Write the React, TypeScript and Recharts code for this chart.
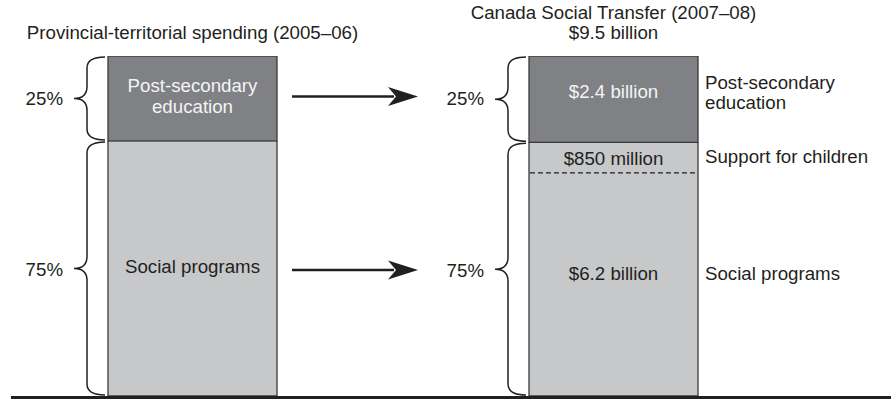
import { BarChart, Bar, XAxis, YAxis, ReferenceLine } from 'recharts';

const categories = ['Provincial-territorial spending (2005–06)', 'Canada Social Transfer (2007–08)'];
const totalLabels = ['', '$9.5 billion'];

// left bar is in percent, right bar in billions of dollars
const postSecondary = [25, 2.4];
const childSupport = [0, 0.85];
const socialPrograms = [75, 6.2];

const postLabels = [['Post-secondary', 'education'], ['$2.4 billion']];
const childLabels = ['', '$850 million'];
const socialLabels = ['Social programs', '$6.2 billion'];
const shareLabels = [['25%', '75%'], ['25%', '75%']];
const sideLabels = { post: ['Post-secondary', 'education'], child: 'Support for children', social: 'Social programs' };

// each bar is drawn as shares of its own total
const data = categories.map((name, i) => {
  const total = postSecondary[i] + childSupport[i] + socialPrograms[i];
  return {
    name,
    idx: i,
    post: postSecondary[i] / total,
    child: childSupport[i] / total,
    social: socialPrograms[i] / total,
  };
});

const DARK = '#808184';
const LIGHT = '#c7c8ca';
const EDGE = '#3a3a3a';
const INK = '#231f20';
const FONT = '"Liberation Sans", Arial, sans-serif';

const txt = { fontFamily: FONT, fontSize: 18.7, fill: INK };

function Brace({ xBar, y1, y2 }: { xBar: number; y1: number; y2: number }) {
  const tip = xBar - 34;
  const stem = xBar - 21;
  const end = xBar - 3;
  const mid = (y1 + y2) / 2;
  const r = 12;
  const d =
    `M${end},${y1 + 1} Q${stem},${y1 + 1} ${stem},${y1 + r} L${stem},${mid - r} ` +
    `Q${stem},${mid} ${tip},${mid} Q${stem},${mid} ${stem},${mid + r} ` +
    `L${stem},${y2 - r} Q${stem},${y2 - 1} ${end},${y2 - 1}`;
  return <path d={d} fill="none" stroke={INK} strokeWidth={1.5} />;
}

function Arrow({ x1, x2, y }: { x1: number; x2: number; y: number }) {
  return (
    <g>
      <line x1={x1} x2={x2 - 24} y1={y} y2={y} stroke={INK} strokeWidth={2.6} />
      <polygon
        points={`${x2},${y} ${x2 - 30},${y - 9.5} ${x2 - 22},${y} ${x2 - 30},${y + 9.5}`}
        fill={INK}
      />
    </g>
  );
}

function PostShape(props: any) {
  const { x, y, width, height, payload } = props;
  const i = payload.idx;
  const cx = x + width / 2;
  const cy = y + height / 2;
  const lines = postLabels[i];
  return (
    <g>
      <rect x={x} y={y} width={width} height={height} fill={DARK} stroke={EDGE} strokeWidth={1.3} />
      {lines.length > 1 ? (
        lines.map((l, k) => (
          <text key={k} x={cx} y={cy - 7 + k * 21} textAnchor="middle" {...txt} fill="#f4f4f4">
            {l}
          </text>
        ))
      ) : (
        <text x={cx} y={cy - 1} textAnchor="middle" {...txt} fill="#f4f4f4">
          {lines[0]}
        </text>
      )}
      <Brace xBar={x} y1={y} y2={y + height} />
      <text x={x - 45} y={cy + 6} textAnchor="end" {...txt}>
        {shareLabels[i][0]}
      </text>
      {i === 0 && <Arrow x1={x + width + 15} x2={x + width + 141} y={cy - 2} />}
      {i === 1 &&
        sideLabels.post.map((l, k) => (
          <text key={k} x={x + width + 7} y={cy - 10 + k * 20} {...txt}>
            {l}
          </text>
        ))}
    </g>
  );
}

function ChildShape(props: any) {
  const { x, y, width, height, payload } = props;
  if (!height || height <= 0) return null;
  const i = payload.idx;
  const cx = x + width / 2;
  const cy = y + height / 2;
  return (
    <g>
      <rect x={x} y={y} width={width} height={height} fill={LIGHT} />
      <path d={`M${x},${y} L${x},${y + height} M${x + width},${y} L${x + width},${y + height}`} stroke={EDGE} strokeWidth={1.3} />
      <line x1={x + 1} x2={x + width - 2} y1={y + height} y2={y + height} stroke={INK} strokeWidth={1.3} strokeDasharray="5 3" />
      <text x={cx} y={cy + 7} textAnchor="middle" {...txt}>
        {childLabels[i]}
      </text>
      <text x={x + width + 7} y={cy + 5} {...txt}>
        {sideLabels.child}
      </text>
    </g>
  );
}

function SocialShape(props: any) {
  const { x, y, width, height, payload } = props;
  const i = payload.idx;
  const childH = (height * payload.child) / payload.social;
  const top = y - childH;
  const bottom = y + height;
  const mid = (top + bottom) / 2;
  const cx = x + width / 2;
  const labelY = mid + (i === 0 ? 4 : 11);
  return (
    <g>
      <rect x={x} y={y} width={width} height={height} fill={LIGHT} />
      <path
        d={`M${x},${y} L${x},${bottom} L${x + width},${bottom} L${x + width},${y}`}
        fill="none"
        stroke={EDGE}
        strokeWidth={1.3}
      />
      <text x={cx} y={labelY} textAnchor="middle" {...txt}>
        {socialLabels[i]}
      </text>
      <Brace xBar={x} y1={top} y2={bottom} />
      <text x={x - 45} y={mid + 7.5} textAnchor="end" {...txt}>
        {shareLabels[i][1]}
      </text>
      {i === 0 && <Arrow x1={x + width + 15} x2={x + width + 141} y={mid + 1.5} />}
      {i === 1 && (
        <text x={x + width + 7} y={labelY} {...txt}>
          {sideLabels.social}
        </text>
      )}
    </g>
  );
}

function TitleTick(props: any) {
  const { x, payload } = props;
  const i = categories.indexOf(payload.value);
  const lines = totalLabels[i] ? [payload.value, totalLabels[i]] : [payload.value];
  return (
    <g>
      {lines.map((l: string, k: number) => (
        <text key={k} x={x} y={38.5 - (lines.length - 1 - k) * 19.5} textAnchor="middle" {...txt}>
          {l}
        </text>
      ))}
    </g>
  );
}

function Baseline(props: any) {
  const y = props.y1 + 1.8;
  return <line x1={29} x2={909} y1={y} y2={y} stroke={INK} strokeWidth={3.6} />;
}

export default function App() {
  return (
    <div style={{ position: 'absolute', left: -18, top: 0, width: 909, height: 399, background: '#fff' }}>
      <BarChart width={909} height={399} data={data} margin={{ top: 0, right: 67, bottom: 3, left: 0 }}>
        <XAxis
          dataKey="name"
          orientation="top"
          height={56}
          axisLine={false}
          tickLine={false}
          interval={0}
          tick={<TitleTick />}
        />
        <YAxis hide domain={[0, 1]} allowDataOverflow />
        <Bar dataKey="social" stackId="a" barSize={169} shape={<SocialShape />} isAnimationActive={false} />
        <Bar dataKey="child" stackId="a" barSize={169} shape={<ChildShape />} isAnimationActive={false} />
        <Bar dataKey="post" stackId="a" barSize={169} shape={<PostShape />} isAnimationActive={false} />
        <ReferenceLine y={0} shape={<Baseline />} ifOverflow="visible" />
      </BarChart>
    </div>
  );
}
